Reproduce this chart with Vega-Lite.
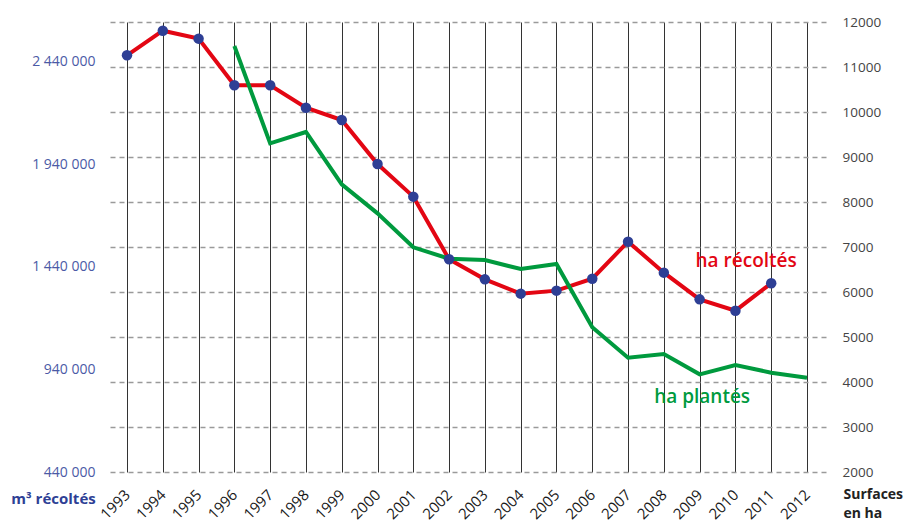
{
  "$schema": "https://vega.github.io/schema/vega-lite/v6.json",
  "width": 719,
  "height": 450,
  "autosize": {"type": "none"},
  "padding": {"left": 107, "top": 22, "right": 81, "bottom": 54},
  "background": "white",
  "config": {"view": {"stroke": null}, "font": "Open Sans"},
  "datasets": {
    "series": [
      {"year": 1993, "serie": "récoltés", "ha": 11260},
      {"year": 1994, "serie": "récoltés", "ha": 11807},
      {"year": 1995, "serie": "récoltés", "ha": 11630},
      {"year": 1996, "serie": "récoltés", "ha": 10593},
      {"year": 1997, "serie": "récoltés", "ha": 10593},
      {"year": 1998, "serie": "récoltés", "ha": 10096},
      {"year": 1999, "serie": "récoltés", "ha": 9822},
      {"year": 2000, "serie": "récoltés", "ha": 8844},
      {"year": 2001, "serie": "récoltés", "ha": 8119},
      {"year": 2002, "serie": "récoltés", "ha": 6726},
      {"year": 2003, "serie": "récoltés", "ha": 6281},
      {"year": 2004, "serie": "récoltés", "ha": 5963},
      {"year": 2005, "serie": "récoltés", "ha": 6030},
      {"year": 2006, "serie": "récoltés", "ha": 6296},
      {"year": 2007, "serie": "récoltés", "ha": 7118},
      {"year": 2008, "serie": "récoltés", "ha": 6430},
      {"year": 2009, "serie": "récoltés", "ha": 5837},
      {"year": 2010, "serie": "récoltés", "ha": 5585},
      {"year": 2011, "serie": "récoltés", "ha": 6193},
      {"year": 1996, "serie": "plantés", "ha": 11467},
      {"year": 1997, "serie": "plantés", "ha": 9304},
      {"year": 1998, "serie": "plantés", "ha": 9556},
      {"year": 1999, "serie": "plantés", "ha": 8393},
      {"year": 2000, "serie": "plantés", "ha": 7748},
      {"year": 2001, "serie": "plantés", "ha": 6993},
      {"year": 2002, "serie": "plantés", "ha": 6741},
      {"year": 2003, "serie": "plantés", "ha": 6711},
      {"year": 2004, "serie": "plantés", "ha": 6511},
      {"year": 2005, "serie": "plantés", "ha": 6622},
      {"year": 2006, "serie": "plantés", "ha": 5215},
      {"year": 2007, "serie": "plantés", "ha": 4541},
      {"year": 2008, "serie": "plantés", "ha": 4622},
      {"year": 2009, "serie": "plantés", "ha": 4170},
      {"year": 2010, "serie": "plantés", "ha": 4378},
      {"year": 2011, "serie": "plantés", "ha": 4207},
      {"year": 2012, "serie": "plantés", "ha": 4096}
    ],
    "labels": [
      {"year": 2010.3, "ha": 6689, "serie": "récoltés", "label": "ha récoltés"},
      {"year": 2009.07, "ha": 3667, "serie": "plantés", "label": "ha plantés"}
    ],
    "leftaxis": [
      {"m3": 440000},
      {"m3": 2440000}
    ]
  },
  "layer": [
    {
      "data": {"name": "leftaxis"},
      "mark": {"type": "point", "opacity": 0},
      "encoding": {
        "y": {
          "field": "m3",
          "type": "quantitative",
          "scale": {"domain": [440000, 2635000], "nice": false, "zero": false},
          "axis": {
            "orient": "left",
            "values": [440000, 940000, 1440000, 1940000, 2440000],
            "labelExpr": "replace(replace(format(datum.value, ','), ',', ' '), ',', ' ')",
            "grid": false,
            "ticks": false,
            "domain": false,
            "labelColor": "#4b5aa6",
            "labelFontSize": 14,
            "labelPadding": 12,
            "title": "m³ récoltés",
            "titleAngle": 0,
            "titleAlign": "center",
            "titleBaseline": "middle",
            "titleX": -54,
            "titleY": 476,
            "titleColor": "#2e3f95",
            "titleFontSize": 15,
            "titleFontWeight": "bold"
          }
        }
      }
    },
    {
      "encoding": {
        "x": {
          "field": "year",
          "type": "quantitative",
          "scale": {"domain": [1992.441, 2012.531], "nice": false, "zero": false},
          "axis": {
            "values": [1993, 1994, 1995, 1996, 1997, 1998, 1999, 2000, 2001, 2002, 2003, 2004, 2005, 2006, 2007, 2008, 2009, 2010, 2011, 2012],
            "format": "d",
            "labelAngle": -45,
            "labelAlign": "right",
            "labelBaseline": "middle",
            "labelFontSize": 15,
            "labelFontWeight": "normal",
            "labelColor": "#1a1a1a",
            "labelPadding": 20,
            "grid": true,
            "gridColor": "#333",
            "gridWidth": 1,
            "gridOpacity": 1,
            "ticks": false,
            "domain": false,
            "title": null
          }
        },
        "y": {
          "field": "ha",
          "type": "quantitative",
          "scale": {"domain": [2000, 12000], "nice": false, "zero": false},
          "axis": {
            "orient": "right",
            "values": [2000, 3000, 4000, 5000, 6000, 7000, 8000, 9000, 10000, 11000, 12000],
            "format": "d",
            "grid": true,
            "gridColor": "#9a9a9a",
            "gridDash": [5, 4],
            "gridWidth": 1.3,
            "ticks": false,
            "domain": false,
            "labelColor": "#444",
            "labelFontSize": 13.5,
            "labelPadding": 16,
            "title": ["Surfaces", "en ha"],
            "titleAngle": 0,
            "titleAlign": "left",
            "titleBaseline": "top",
            "titleX": 17,
            "titleY": 465,
            "titleColor": "#222",
            "titleFontSize": 14,
            "titleFontWeight": "bold",
            "titleLineHeight": 19
          }
        },
        "color": {
          "field": "serie",
          "type": "nominal",
          "scale": {"domain": ["récoltés", "plantés"], "range": ["#e30613", "#009a3e"]},
          "legend": null
        }
      },
      "layer": [
        {
          "data": {"name": "series"},
          "mark": {"type": "line", "strokeWidth": 4, "strokeJoin": "miter"},
          "encoding": {"detail": {"field": "serie"}}
        },
        {
          "data": {"name": "series"},
          "transform": [{"filter": "datum.serie == 'récoltés'"}],
          "mark": {"type": "circle", "size": 110, "opacity": 1},
          "encoding": {"color": {"value": "#2e3f95"}}
        },
        {
          "data": {"name": "labels"},
          "mark": {"type": "text", "fontSize": 19, "fontWeight": 600, "align": "center", "baseline": "middle"},
          "encoding": {"text": {"field": "label"}}
        }
      ]
    }
  ],
  "resolve": {"scale": {"y": "independent"}}
}
